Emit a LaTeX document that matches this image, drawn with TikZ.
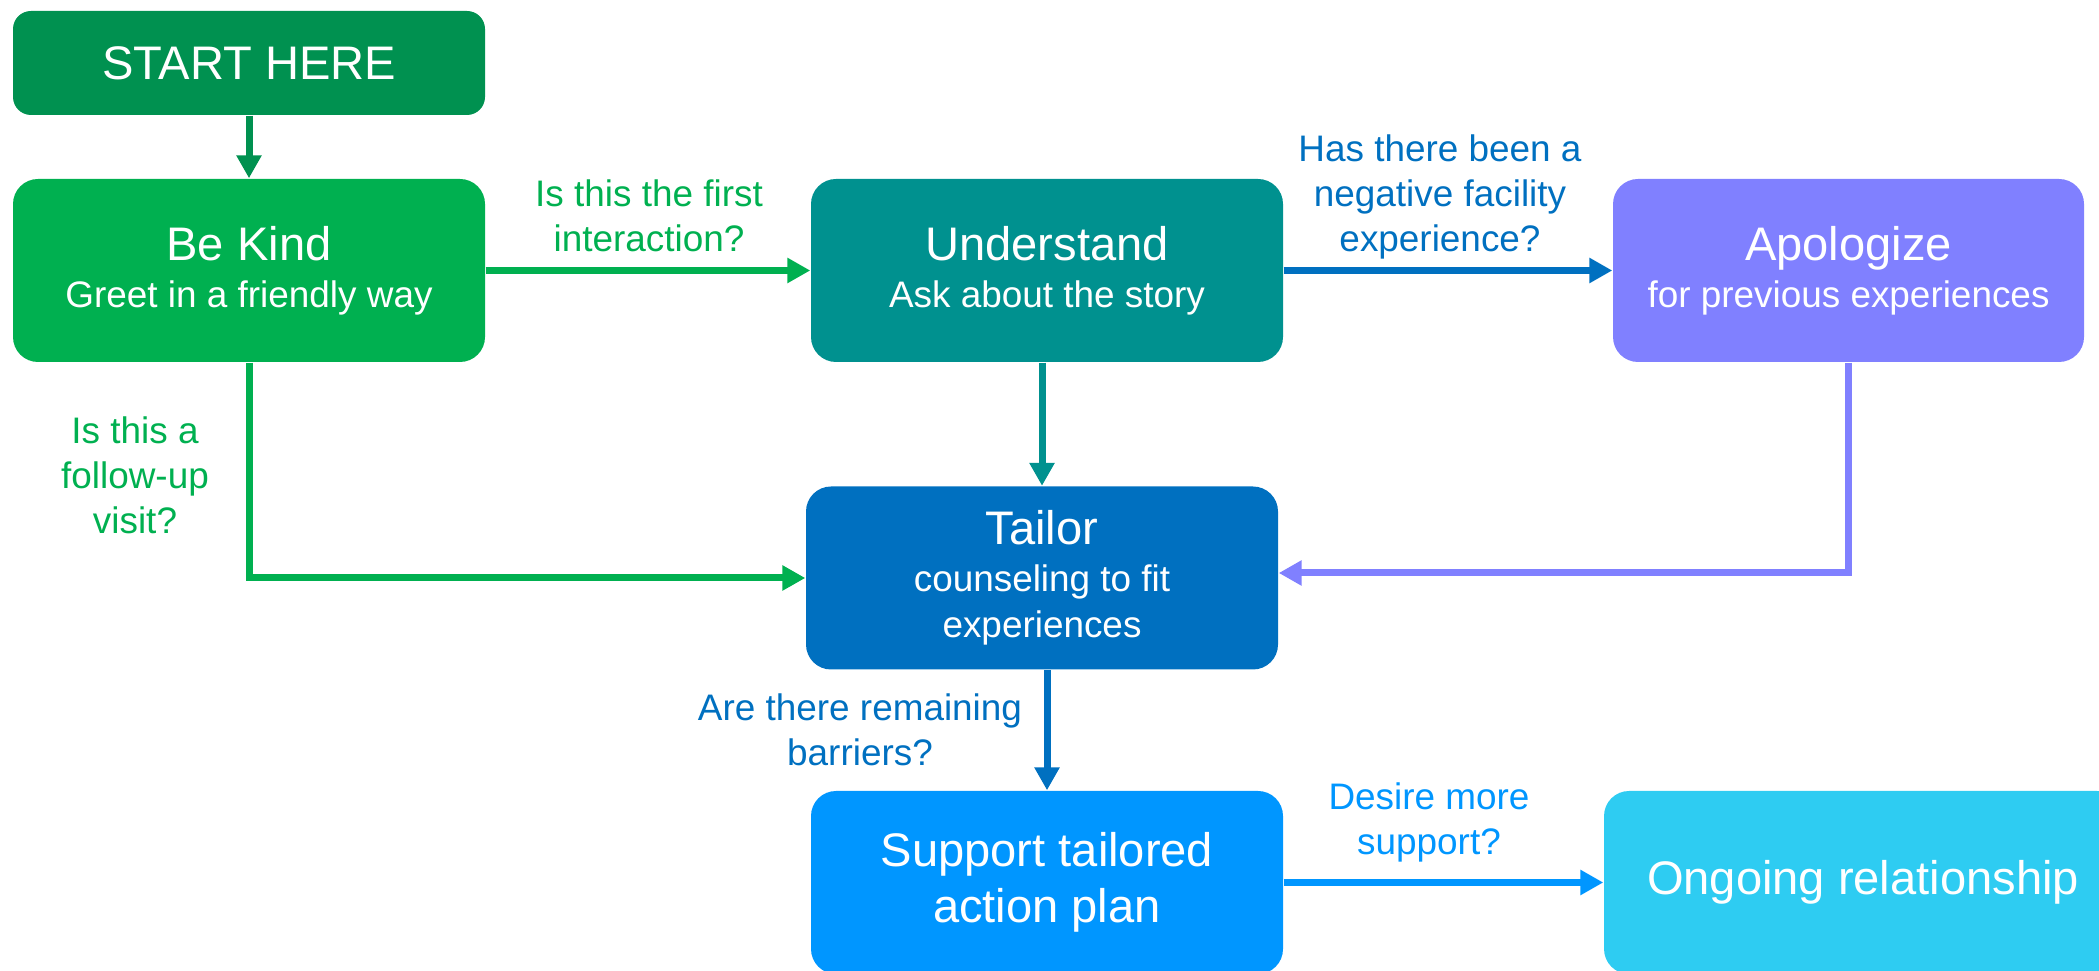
\documentclass[tikz,border=0pt]{standalone}
\usepackage{fontspec}
\setmainfont{Liberation Sans}
\usetikzlibrary{arrows.meta}
\definecolor{startGreen}{RGB}{0,145,80}
\definecolor{kindGreen}{RGB}{0,176,80}
\definecolor{understandTeal}{RGB}{0,145,143}
\definecolor{apologizePurple}{RGB}{128,128,255}
\definecolor{tailorBlue}{RGB}{0,112,192}
\definecolor{supportBlue}{RGB}{0,150,255}
\definecolor{ongoingCyan}{RGB}{46,204,242}
\newcommand{\titlesize}{\fontsize{13.4}{16}\selectfont}
\newcommand{\notesize}{\fontsize{10.5}{12.8}\selectfont}
\newcommand{\boxsize}{\fontsize{10.5}{13.3}\selectfont}

\begin{document}
\begin{tikzpicture}
            \tikzstyle{box} = [rounded corners=0.25cm, minimum width=4.72cm, minimum height=1.83cm, inner sep=0pt, text=white, font=\boxsize, align=center]
            \tikzstyle{note} = [font=\notesize, align=center, inner sep=0pt]
            \tikzstyle{arrow} = [-{Triangle[length=0.23cm,width=0.24cm]}, line width=0.07cm]

            \useasboundingbox (0,0) rectangle (20.99,9.70);
            \clip (0,0) rectangle (20.99,9.70);

            % Top row
            \node[box, fill=startGreen, minimum height=1.04cm, rounded corners=0.18cm, font=\titlesize] (start) at (2.49,9.07) {START HERE};
            \node[box, fill=kindGreen] (kind) at (2.49,6.995) {{\titlesize Be Kind}\\Greet in a friendly way};
            \node[box, fill=understandTeal] (understand) at (10.47,6.995) {{\titlesize Understand}\\Ask about the story};
            \node[box, fill=apologizePurple, minimum width=4.71cm] (apologize) at (18.485,6.995) {{\titlesize Apologize}\\for previous experiences};

            % Middle and bottom
            \node[box, fill=tailorBlue] (tailor) at (10.42,3.92) {{\titlesize Tailor}\\counseling to fit\\experiences};
            \node[box, fill=supportBlue, font=\titlesize] (support) at (10.47,0.875) {Support tailored\\action plan};
            \node[box, fill=ongoingCyan, minimum width=5.18cm, font=\titlesize] (ongoing) at (18.63,0.875) {Ongoing relationship};

            % Questions on the connectors
            \node[note, kindGreen] (qfirst) at (6.49,7.54) {Is this the first\\interaction?};
            \node[note, tailorBlue] (qnegative) at (14.40,7.73) {Has there been a\\negative facility\\experience?};
            \node[note, kindGreen] (qfollow) at (1.35,4.945) {Is this a\\follow-up\\visit?};
            \node[note, tailorBlue] (qbarriers) at (8.60,2.405) {Are there remaining\\barriers?};
            \node[note, supportBlue] (qmore) at (14.29,1.475) {Desire more\\support?};

            % Connectors
            \draw[arrow, startGreen] (start) -- (kind.north);
            \draw[arrow, kindGreen] (kind.east) -- (understand.west);
            \draw[arrow, tailorBlue] (understand.east) -- (apologize.west);
            \draw[arrow, understandTeal] (tailor.north |- understand.south) -- (tailor.north);
            \draw[arrow, apologizePurple] (apologize.south) |- ([yshift=0.05cm]tailor.east);
            \draw[arrow, kindGreen] (kind.south) |- (tailor.west);
            \draw[arrow, tailorBlue] (support.north |- tailor.south) -- (support.north);
            \draw[arrow, supportBlue] (support.east) -- (ongoing.west);
        \end{tikzpicture}
\end{document}
